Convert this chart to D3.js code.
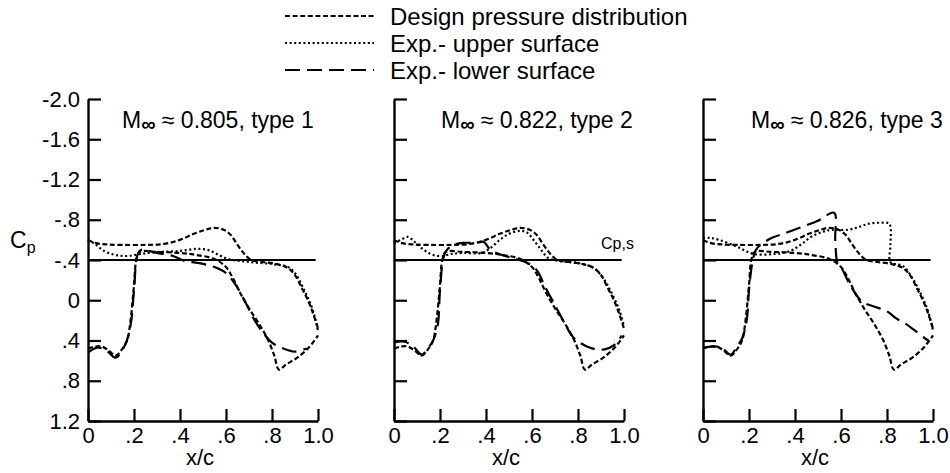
<!DOCTYPE html>
<html><head><meta charset="utf-8">
<script src="https://cdn.jsdelivr.net/npm/d3@7"></script>
<style>
html,body{margin:0;padding:0;background:#fff;}
svg text{font-family:"Liberation Sans",Arial,Helvetica,sans-serif;fill:#000;}
</style></head>
<body>
<svg id="chart" width="950" height="473"></svg>
<script>
// ---------- data ----------
const xTickValues = [0, 0.2, 0.4, 0.6, 0.8, 1.0];
const xTickLabels = ["0", ".2", ".4", ".6", ".8", "1.0"];
const yTickValues = [-2.0, -1.6, -1.2, -0.8, -0.4, 0, 0.4, 0.8, 1.2];
const yTickLabels = ["-2.0", "-1.6", "-1.2", "-.8", "-.4", "0", ".4", ".8", "1.2"];
const machNumbers = ["0.805", "0.822", "0.826"];
const typeNames = ["1", "2", "3"];
const sonicCp = -0.4;
const legendLabels = ["Design pressure distribution", "Exp.- upper surface", "Exp.- lower surface"];

// design pressure distribution [x/c, Cp]
const designUpper = [[0,-0.6],[0.03,-0.57],[0.08,-0.555],[0.15,-0.55],[0.25,-0.55],[0.33,-0.56],[0.4,-0.6],[0.46,-0.66],[0.51,-0.7],[0.55,-0.72],[0.59,-0.7],[0.62,-0.65],[0.65,-0.55],[0.68,-0.46],[0.71,-0.4],[0.76,-0.38],[0.82,-0.36],[0.87,-0.32],[0.9,-0.25],[0.93,-0.12],[0.96,0.02],[0.98,0.14],[1.0,0.28]];
const designLower = [[0,0.48],[0.03,0.46],[0.06,0.46],[0.09,0.5],[0.12,0.55],[0.15,0.48],[0.17,0.4],[0.185,0.2],[0.2,-0.15],[0.21,-0.4],[0.225,-0.48],[0.3,-0.48],[0.4,-0.47],[0.47,-0.45],[0.55,-0.41],[0.6,-0.33],[0.63,-0.22],[0.66,-0.08],[0.7,0.08],[0.74,0.22],[0.78,0.38],[0.81,0.55],[0.83,0.69],[0.86,0.64],[0.91,0.57],[0.96,0.47],[1.0,0.35]];

// experiment, type 1
const upper1 = [[0,-0.6],[0.03,-0.56],[0.07,-0.49],[0.12,-0.45],[0.17,-0.44],[0.23,-0.46],[0.31,-0.48],[0.4,-0.49],[0.47,-0.51],[0.52,-0.5],[0.56,-0.46],[0.61,-0.41],[0.7,-0.38],[0.8,-0.36],[0.87,-0.33],[0.9,-0.27],[0.94,-0.1],[0.97,0.05],[0.99,0.2],[1.0,0.3]];
const lower1 = [[0,0.52],[0.04,0.47],[0.08,0.5],[0.12,0.57],[0.16,0.45],[0.185,0.25],[0.2,-0.1],[0.215,-0.45],[0.23,-0.5],[0.3,-0.47],[0.37,-0.44],[0.42,-0.39],[0.48,-0.37],[0.55,-0.33],[0.6,-0.27],[0.64,-0.16],[0.68,0.0],[0.72,0.18],[0.76,0.32],[0.8,0.42],[0.85,0.48],[0.9,0.51],[0.95,0.48]];

// experiment, type 2
const upper2 = [[0,-0.57],[0.03,-0.6],[0.06,-0.63],[0.09,-0.58],[0.13,-0.5],[0.17,-0.45],[0.21,-0.44],[0.25,-0.46],[0.3,-0.47],[0.38,-0.47],[0.42,-0.52],[0.46,-0.6],[0.5,-0.66],[0.55,-0.69],[0.58,-0.67],[0.61,-0.59],[0.64,-0.5],[0.67,-0.42],[0.72,-0.39],[0.8,-0.37],[0.86,-0.33],[0.9,-0.25],[0.94,-0.1],[0.98,0.1],[1.0,0.26]];
const lower2 = [[0,0.42],[0.04,0.41],[0.08,0.45],[0.12,0.54],[0.15,0.47],[0.17,0.4],[0.19,0.25],[0.2,-0.1],[0.215,-0.42],[0.23,-0.5],[0.26,-0.55],[0.3,-0.57],[0.36,-0.57],[0.39,-0.58],[0.42,-0.5],[0.47,-0.45],[0.53,-0.41],[0.58,-0.37],[0.62,-0.3],[0.66,-0.12],[0.7,0.05],[0.74,0.22],[0.78,0.37],[0.85,0.47],[0.91,0.49],[0.96,0.44],[0.99,0.35]];

// experiment, type 3
const upper3 = [[0,-0.62],[0.03,-0.62],[0.07,-0.6],[0.15,-0.53],[0.22,-0.46],[0.31,-0.46],[0.38,-0.49],[0.43,-0.56],[0.47,-0.63],[0.52,-0.68],[0.56,-0.7],[0.63,-0.7],[0.68,-0.73],[0.72,-0.76],[0.77,-0.77],[0.81,-0.76],[0.815,-0.55],[0.815,-0.38],[0.87,-0.34],[0.91,-0.22],[0.95,-0.05],[0.98,0.12],[1.0,0.3]];
const lower3 = [[0,0.47],[0.04,0.46],[0.08,0.47],[0.12,0.54],[0.15,0.45],[0.17,0.38],[0.19,0.2],[0.2,-0.1],[0.215,-0.38],[0.23,-0.5],[0.25,-0.55],[0.3,-0.62],[0.35,-0.66],[0.42,-0.72],[0.5,-0.79],[0.57,-0.87],[0.575,-0.6],[0.585,-0.37],[0.6,-0.33],[0.64,-0.15],[0.69,0.01],[0.74,0.06],[0.8,0.11],[0.84,0.18],[0.885,0.24],[0.915,0.29],[0.96,0.37],[0.98,0.4]];

const upperSeries = [upper1, upper2, upper3];
const lowerSeries = [lower1, lower2, lower3];

// ---------- layout ----------
const panelX0 = [88, 394, 703];
const panelW = 230;
const yTop = 99, yBot = 421;
const titleDx = [34, 47, 48];
const fontMain = 22;

const svg = d3.select("#chart");

const dashDesign = "5,2.6";
const dashUpper = "2,2.6";
const dashLower = "15,7";

// legend
const legendStyles = [dashDesign, dashUpper, dashLower];
const legendRowY = [16, 43, 70];
legendLabels.forEach((lab, i) => {
  svg.append("line").attr("x1", 285).attr("x2", 374)
    .attr("y1", legendRowY[i]).attr("y2", legendRowY[i])
    .attr("stroke", "#000").attr("stroke-width", 2.2)
    .attr("stroke-dasharray", legendStyles[i]);
  svg.append("text").attr("x", 390).attr("y", legendRowY[i] + 9)
    .attr("font-size", 24).text(lab);
});

const y = d3.scaleLinear().domain([-2.0, 1.2]).range([yTop, yBot]);

panelX0.forEach((x0, p) => {
  const x = d3.scaleLinear().domain([0, 1]).range([x0, x0 + panelW]);
  const g = svg.append("g");

  // y axis
  const yAxis = d3.axisLeft(y).tickValues(yTickValues)
    .tickSizeInner(-13).tickSizeOuter(0).tickPadding(8)
    .tickFormat((d, i) => p === 0 ? yTickLabels[i] : "");
  const ga = g.append("g").attr("transform", `translate(${x0},0)`).call(yAxis);
  ga.select(".domain").attr("stroke-width", 2.4);
  ga.selectAll(".tick line").attr("stroke-width", 2.2);
  ga.selectAll(".tick text").attr("font-size", fontMain).attr("font-family", null);

  // x axis
  const xAxis = d3.axisBottom(x).tickValues(xTickValues)
    .tickSizeInner(-12).tickSizeOuter(0).tickPadding(10)
    .tickFormat((d, i) => xTickLabels[i]);
  const gx = g.append("g").attr("transform", `translate(0,${yBot})`).call(xAxis);
  gx.select(".domain").attr("stroke-width", 2.4);
  gx.selectAll(".tick line").attr("stroke-width", 2.2);
  gx.selectAll(".tick text").attr("font-size", fontMain).attr("font-family", null).attr("dy", "0.55em");

  g.append("text").attr("x", x(0.5) - 3).attr("y", 465)
    .attr("text-anchor", "middle").attr("font-size", fontMain).text("x/c");

  // sonic line
  g.append("line").attr("x1", x(0)).attr("x2", x(0.99))
    .attr("y1", y(sonicCp)).attr("y2", y(sonicCp))
    .attr("stroke", "#000").attr("stroke-width", 2);

  // title
  const t = g.append("text").attr("x", x0 + titleDx[p]).attr("y", 128).attr("font-size", 23);
  t.append("tspan").text("M");
  t.append("tspan").attr("font-size", 20).attr("font-weight", "bold").attr("dy", 3).text("\u221E");
  t.append("tspan").attr("dy", -3).text(" \u2248 " + machNumbers[p] + ", type " + typeNames[p]);

  const line = d3.line().x(d => x(d[0])).y(d => y(d[1])).curve(d3.curveCatmullRom.alpha(0.5));
  const draw = (data, dash) => g.append("path").attr("d", line(data))
    .attr("fill", "none").attr("stroke", "#000").attr("stroke-width", 2.2)
    .attr("stroke-dasharray", dash);
  draw(designUpper, dashDesign);
  draw(designLower, dashDesign);
  draw(upperSeries[p], dashUpper);
  draw(lowerSeries[p], dashLower);

  if (p === 1) {
    g.append("text").attr("x", x(0.9)).attr("y", 249).attr("font-size", 16).text("Cp,s");
  }
});

// Cp label
const cp = svg.append("text").attr("x", 10).attr("y", 248).attr("font-size", 23);
cp.append("tspan").text("C");
cp.append("tspan").attr("font-size", 16).attr("dy", 5).text("p");
</script>
</body></html>
